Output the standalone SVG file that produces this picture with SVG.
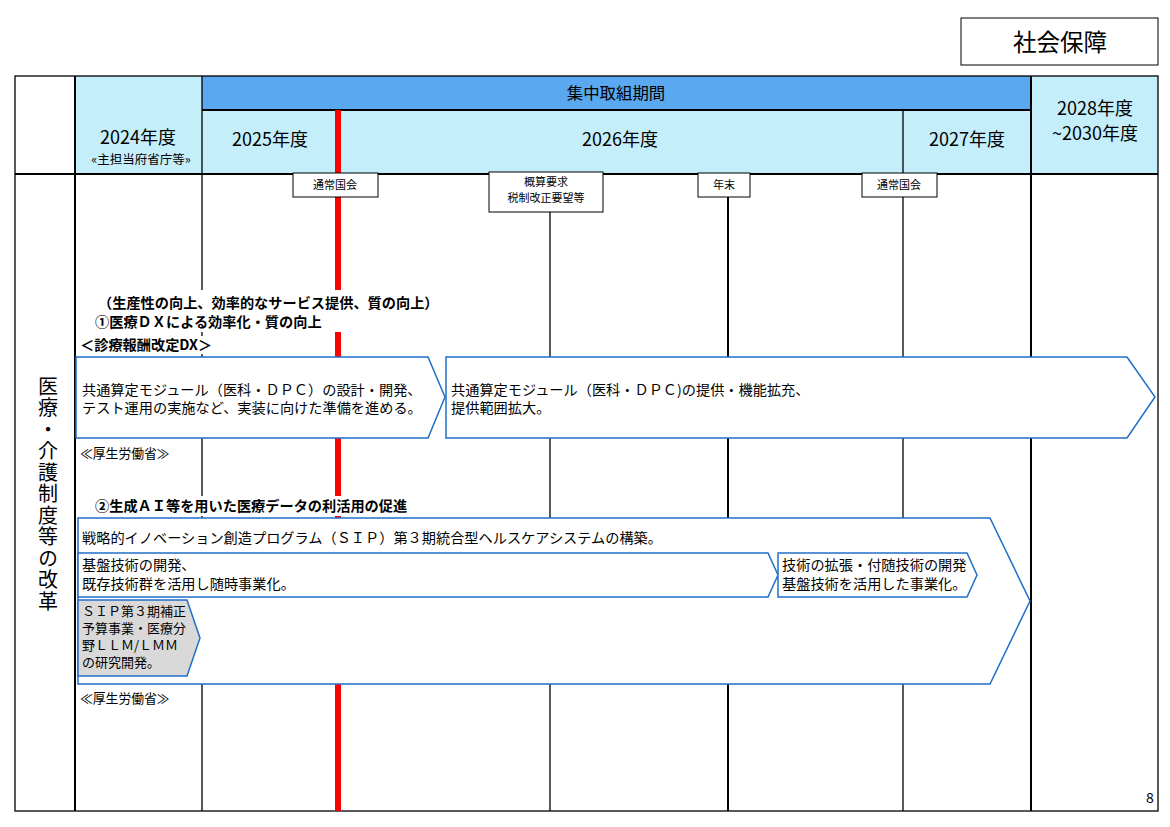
<svg xmlns="http://www.w3.org/2000/svg" width="1170" height="827" viewBox="0 0 1170 827">
<style>
text{font-family:"Noto Sans CJK JP","Noto Sans",sans-serif;fill:#000}
.g{stroke:#000;stroke-width:1.3;fill:none}
.gb{stroke:#000;stroke-width:2;fill:none}
.ar{fill:#fff;stroke:#1f6fc8;stroke-width:1.5}
.lb{fill:#fff;stroke:#000;stroke-width:1}
.s{font-size:14.2px}
.t{font-size:14.2px}
.h{font-size:18px}
.b{font-size:14.2px;font-weight:bold}
</style>
<rect width="1170" height="827" fill="#fff"/>
<g id="title"><rect x="961" y="18" width="197" height="47" class="lb" stroke-width="1.5"/><text x="1060" y="51" text-anchor="middle" font-size="23.5">社会保障</text></g>
<g id="header">
<rect x="75" y="76" width="1083" height="98" fill="#c5eefb"/>
<rect x="202" y="76" width="829" height="34" fill="#5aa8f0"/>
<text x="616" y="99" text-anchor="middle" font-size="16.4">集中取組期間</text>
<text x="138" y="144" text-anchor="middle" class="h">2024年度</text>
<text x="141" y="164" text-anchor="middle" font-size="12.5">«主担当府省庁等»</text>
<text x="270" y="146" text-anchor="middle" class="h">2025年度</text>
<text x="620" y="146" text-anchor="middle" class="h">2026年度</text>
<text x="967" y="146" text-anchor="middle" class="h">2027年度</text>
<text x="1095" y="115" text-anchor="middle" class="h">2028年度</text>
<text x="1095" y="140" text-anchor="middle" class="h">~2030年度</text>
</g>
<g id="grid">
<rect x="15" y="76" width="1143" height="735" class="g"/>
<line x1="75" y1="76" x2="75" y2="811" class="gb"/>
<line x1="202" y1="76" x2="202" y2="811" class="g"/>
<line x1="202" y1="110" x2="1031" y2="110" class="gb"/>
<line x1="15" y1="174" x2="1158" y2="174" class="gb"/>
<line x1="1031" y1="76" x2="1031" y2="811" class="gb"/>
<line x1="903" y1="110" x2="903" y2="811" class="g"/>
<line x1="550" y1="212" x2="550" y2="811" class="g"/>
<line x1="728" y1="197" x2="728" y2="811" class="gb"/>
<line x1="338" y1="110" x2="338" y2="811" stroke="#f00" stroke-width="6"/>
</g>
<g id="side"><text x="48" y="376" font-size="20" writing-mode="tb" letter-spacing="1.5">医療・介護制度等の改革</text></g>
<g id="milestones">
<rect x="293" y="173" width="85" height="24" class="lb"/><text x="335" y="189" text-anchor="middle" font-size="11">通常国会</text>
<rect x="489" y="172" width="114" height="40" class="lb"/><text x="546" y="186" text-anchor="middle" font-size="11">概算要求</text><text x="546" y="202" text-anchor="middle" font-size="11">税制改正要望等</text>
<rect x="698" y="173" width="52" height="24" class="lb"/><text x="724" y="189" text-anchor="middle" font-size="11">年末</text>
<rect x="862" y="173" width="75" height="24" class="lb"/><text x="899" y="189" text-anchor="middle" font-size="11">通常国会</text>
</g>
<g id="sec1">
<rect x="80" y="290" width="370" height="42" fill="#fff"/>
<rect x="80" y="336" width="140" height="18" fill="#fff"/>
<text x="98" y="308" class="b">（生産性の向上、効率的なサービス提供、質の向上）</text>
<text x="95" y="327" class="b">①医療ＤＸによる効率化・質の向上</text>
<text x="80" y="350" class="b">＜診療報酬改定DX＞</text>
</g>
<g id="arrow1"><polygon points="76,357 428,357 445,397 428,438 76,438" class="ar"/>
<text x="82" y="395" class="s">共通算定モジュール（医科・ＤＰＣ）の設計・開発、</text><text x="82" y="413" class="s">テスト運用の実施など、実装に向けた準備を進める。</text></g>
<g id="arrow2"><polygon points="446,357 1127,357 1155,397 1127,438 446,438" class="ar"/>
<text x="451" y="395" class="s">共通算定モジュール（医科・ＤＰＣ)の提供・機能拡充、</text><text x="451" y="413" class="s">提供範囲拡大。</text></g>
<g id="note1"><rect x="78" y="445" width="100" height="16" fill="#fff"/><text x="80" y="458" font-size="12.8">≪厚生労働省≫</text></g>
<g id="sec2"><rect x="88" y="496" width="325" height="20" fill="#fff"/><text x="95" y="511" class="b">②生成ＡＩ等を用いた医療データの利活用の促進</text></g>
<g id="arrow3"><polygon points="78,518 990,518 1030,601 990,684 78,684" class="ar"/>
<text x="82" y="543" class="s">戦略的イノベーション創造プログラム（ＳＩＰ）第３期統合型ヘルスケアシステムの構築。</text></g>
<g id="arrow4"><polygon points="78,553 768,553 778,575 768,597 78,597" class="ar"/>
<text x="82" y="570" class="t">基盤技術の開発、</text><text x="82" y="589" class="t">既存技術群を活用し随時事業化。</text></g>
<g id="arrow5"><polygon points="778,553 967,553 977,575 967,597 778,597" class="ar"/>
<text x="782" y="570" class="t">技術の拡張・付随技術の開発</text><text x="782" y="589" class="t">基盤技術を活用した事業化。</text></g>
<g id="arrow6"><polygon points="78,600 187,600 200,638 187,676 78,676" class="ar" style="fill:#d9d9d9"/>
<text x="82" y="616" font-size="13">ＳＩＰ第３期補正</text><text x="82" y="633" font-size="13">予算事業・医療分</text><text x="82" y="650" font-size="13">野ＬＬＭ/ＬＭＭ</text><text x="82" y="667" font-size="13">の研究開発。</text></g>
<g id="note2"><rect x="78" y="690" width="100" height="16" fill="#fff"/><text x="80" y="703" font-size="12.8">≪厚生労働省≫</text></g>
<text x="1150" y="803" text-anchor="middle" font-size="14">8</text>
</svg>
